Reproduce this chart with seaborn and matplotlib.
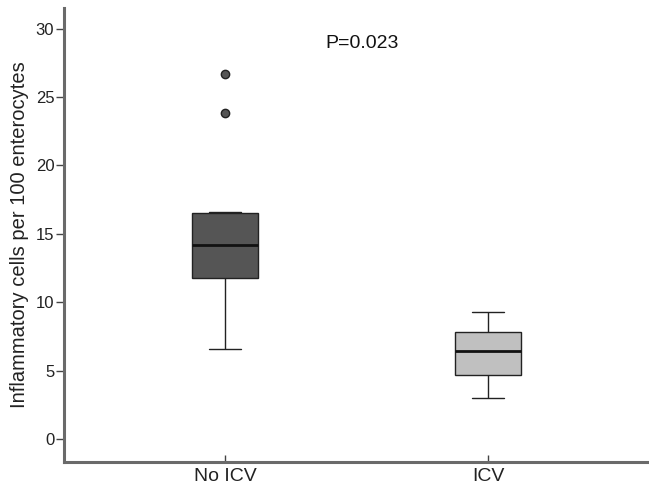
import numpy as np
import pandas as pd
import matplotlib
matplotlib.use("Agg")
import matplotlib.pyplot as plt
import seaborn as sns

categories = ["No ICV", "ICV"]
no_icv_values = [6.6, 9.0, 10.5, 11.8, 12.5, 13.4, 14.2, 15.0, 15.8, 16.5, 16.6, 23.8, 26.7]
icv_values = [3.0, 3.8, 4.3, 4.7, 5.2, 5.8, 6.4, 6.8, 7.3, 7.8, 8.4, 8.9, 9.3]
box_colors = ["#555555", "#c0c0c0"]
y_ticks = [0, 5, 10, 15, 20, 25, 30]
p_text = "P=0.023"
y_label = "Inflammatory cells per 100 enterocytes"

df = pd.DataFrame({
    "group": [categories[0]] * len(no_icv_values) + [categories[1]] * len(icv_values),
    "value": no_icv_values + icv_values,
})

sns.set_style("white")
plt.rcParams["font.family"] = ["Liberation Sans", "DejaVu Sans"]

fig = plt.figure(figsize=(6.49, 4.92), dpi=100)
ax = fig.add_axes([64 / 649, 30 / 492, 1 - 64 / 649, (462 - 8) / 492])

sns.boxplot(
    data=df, x="group", y="value", hue="group", order=categories,
    hue_order=categories, palette=box_colors, legend=False, width=0.25,
    linewidth=1.0, ax=ax,
    boxprops=dict(edgecolor="#222222"),
    whiskerprops=dict(color="#222222"),
    capprops=dict(color="#222222"),
    medianprops=dict(color="#111111", linewidth=2.0),
    flierprops=dict(marker="o", markerfacecolor="#555555", markeredgecolor="#222222",
                    markersize=6),
)

ax.set_xlim(-0.612, 1.612)
ax.set_ylim(-1.68, 31.5)
ax.set_yticks(y_ticks)
ax.set_yticklabels([str(t) for t in y_ticks], fontsize=12, color="#222222")
ax.set_xticks([0, 1])
ax.set_xticklabels(categories, fontsize=14, color="#222222")
ax.set_xlabel("")
ax.set_ylabel(y_label, fontsize=14.5, color="#222222", labelpad=5)
ax.tick_params(axis="y", direction="out", length=6, width=1, color="#444444", left=True, pad=1)
ax.tick_params(axis="x", direction="in", length=5, width=1, color="#444444", bottom=True, pad=4)

for side in ["top", "right"]:
    ax.spines[side].set_visible(False)
for side in ["left", "bottom"]:
    ax.spines[side].set_color("#6a6a6a")
    ax.spines[side].set_linewidth(2.2)

fig.text(362 / 649, 1 - 43 / 492, p_text, fontsize=14, ha="center", va="center", color="#111111")

fig.savefig("out.png", dpi=100)
